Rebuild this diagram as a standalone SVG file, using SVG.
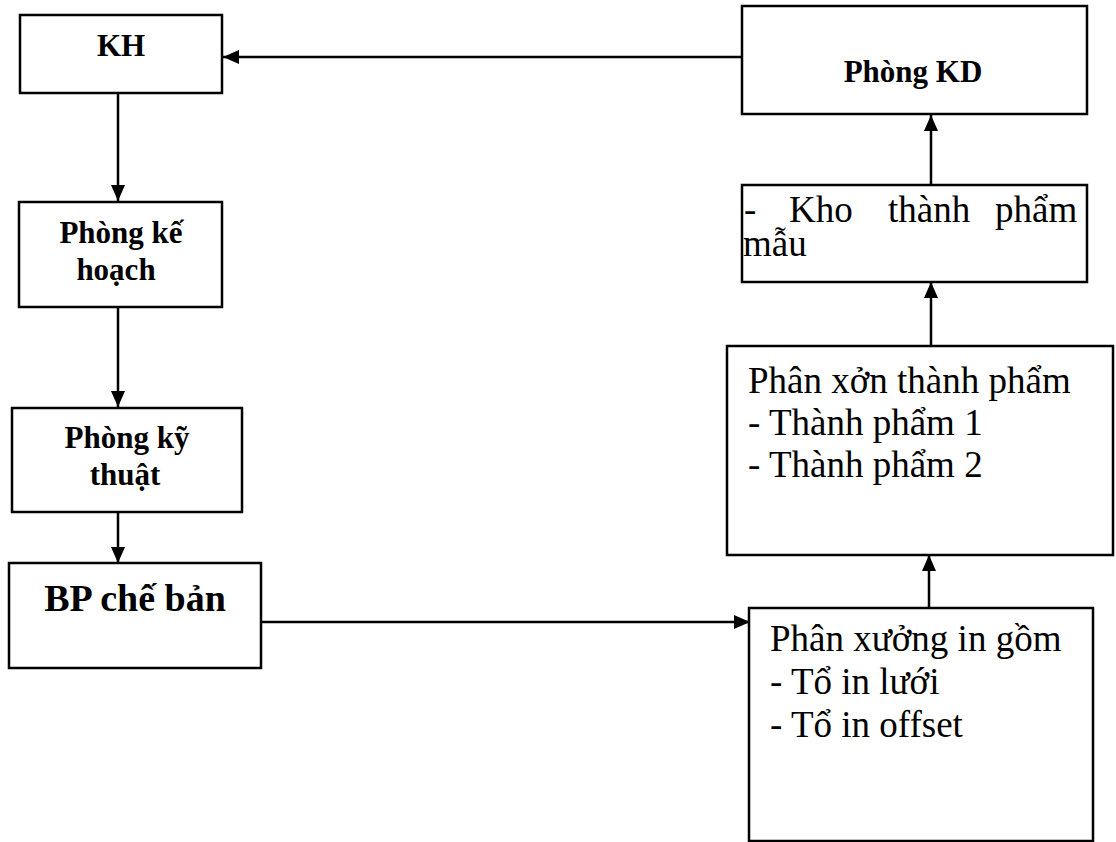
<svg xmlns="http://www.w3.org/2000/svg" width="1116" height="842" viewBox="0 0 1116 842">
  <style>
    .box { fill: #ffffff; stroke: #000000; stroke-width: 2.5; }
    .link { fill: none; stroke: #000000; stroke-width: 2.5; }
    .lbl-b { font-family: "Liberation Serif", "Times New Roman", serif; font-weight: bold; font-size: 31px; fill: #000; }
    .lbl-big { font-family: "Liberation Serif", "Times New Roman", serif; font-weight: bold; font-size: 38px; fill: #000; }
    .lbl { font-family: "Liberation Serif", "Times New Roman", serif; font-size: 37px; fill: #000; }
  </style>
  <defs>
    <marker id="arrow" viewBox="0 0 16 14" refX="16" refY="7" markerWidth="16" markerHeight="14" markerUnits="userSpaceOnUse" orient="auto">
      <path d="M0,0 L16,7 L0,14 z" fill="#000"/>
    </marker>
  </defs>
  <rect width="1116" height="842" fill="#ffffff"/>

  <g id="connectors">
    <line class="link" x1="742" y1="57" x2="223" y2="57" marker-end="url(#arrow)"/>
    <line class="link" x1="118" y1="93" x2="118" y2="201" marker-end="url(#arrow)"/>
    <line class="link" x1="118" y1="307" x2="118" y2="407" marker-end="url(#arrow)"/>
    <line class="link" x1="118" y1="512" x2="118" y2="563" marker-end="url(#arrow)"/>
    <line class="link" x1="261" y1="622" x2="750" y2="622" marker-end="url(#arrow)"/>
    <line class="link" x1="929" y1="608" x2="929" y2="555" marker-end="url(#arrow)"/>
    <line class="link" x1="931" y1="346" x2="931" y2="282" marker-end="url(#arrow)"/>
    <line class="link" x1="931" y1="185" x2="931" y2="115" marker-end="url(#arrow)"/>
  </g>

  <g id="kh">
    <rect class="box" x="20" y="15" width="202" height="78"/>
    <text class="lbl-b" x="121" y="56" text-anchor="middle">KH</text>
  </g>

  <g id="phong-kd">
    <rect class="box" x="742" y="6" width="345" height="108"/>
    <text class="lbl-b" x="913" y="82" text-anchor="middle">Phòng KD</text>
  </g>

  <g id="phong-ke-hoach">
    <rect class="box" x="19" y="202" width="203" height="105"/>
    <text class="lbl-b" x="121" y="243" text-anchor="middle">Phòng kế</text>
    <text class="lbl-b" x="116" y="280" text-anchor="middle">hoạch</text>
  </g>

  <g id="phong-ky-thuat">
    <rect class="box" x="12" y="408" width="230" height="104"/>
    <text class="lbl-b" x="127" y="448" text-anchor="middle">Phòng kỹ</text>
    <text class="lbl-b" x="125" y="485" text-anchor="middle">thuật</text>
  </g>

  <g id="bp-che-ban">
    <rect class="box" x="9" y="563" width="252" height="105"/>
    <text class="lbl-big" x="135" y="611" text-anchor="middle">BP chế bản</text>
  </g>

  <g id="phan-xuong-in">
    <rect class="box" x="749" y="608" width="344" height="233"/>
    <text class="lbl" x="770" y="651">Phân xưởng in gồm</text>
    <text class="lbl" x="770" y="694">- Tổ in lưới</text>
    <text class="lbl" x="770" y="737">- Tổ in offset</text>
  </g>

  <g id="phan-xon-thanh-pham">
    <rect class="box" x="727" y="346" width="386" height="209"/>
    <text class="lbl" x="748" y="393">Phân xởn thành phẩm</text>
    <text class="lbl" x="748" y="435">- Thành phẩm 1</text>
    <text class="lbl" x="748" y="477">- Thành phẩm 2</text>
  </g>

  <g id="kho-thanh-pham">
    <rect class="box" x="742" y="185" width="345" height="97"/>
    <text class="lbl" y="222"><tspan x="744">-</tspan><tspan x="789">Kho</tspan><tspan x="888">thành</tspan><tspan x="995">phẩm</tspan></text>
    <text class="lbl" x="743" y="256">mẫu</text>
  </g>
</svg>
